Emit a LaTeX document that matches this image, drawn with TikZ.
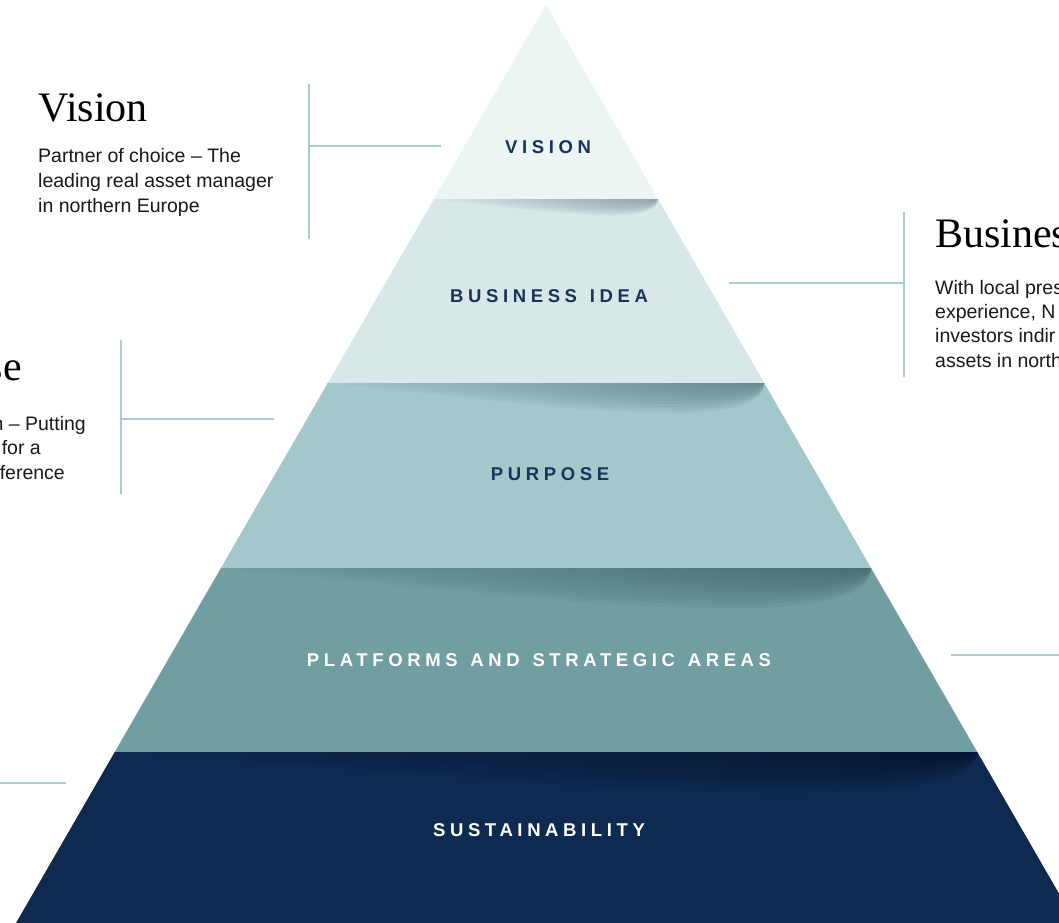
\documentclass[tikz,border=0pt]{standalone}
\usepackage{fontspec}
\newfontfamily\titlefont{Liberation Serif}
\newfontfamily\descfont{Liberation Sans}
\newfontfamily\labelfont[LetterSpace=25]{Liberation Sans}

\definecolor{visionfill}{HTML}{ECF4F4}
\definecolor{ideafill}{HTML}{D8E7E8}
\definecolor{purposefill}{HTML}{A3C8CB}
\definecolor{platformfill}{HTML}{719EA0}
\definecolor{sustainfill}{HTML}{0F2A50}
\definecolor{navytext}{HTML}{1A3358}
\definecolor{bracketline}{HTML}{A8CDD2}
\definecolor{shadeA}{HTML}{7F8E93}
\definecolor{shadeB}{HTML}{557A7F}
\definecolor{shadeC}{HTML}{3F6366}
\definecolor{shadeD}{HTML}{06142C}

% soft curved shadow under a step of the pyramid:
% #1 left x, #2 right x, #3 y of the step, #4 depth, #5 layer colour, #6 shadow colour
\newcommand\stepshadow[6]{%
  \foreach \k in {1,...,10}{%
    \shade[left color=#5, right color=#6, fill opacity=0.13]
      (#1,#3) .. controls ({#1+0.5*(#2-#1)},{#3+0.6*#4*\k/10})
                 and (#2,{#3+1.33*#4*\k/10}) .. (#2,#3) -- cycle;
  }%
}

\begin{document}
\begin{tikzpicture}[x=1pt,y=-1pt,
  title/.style={font=\titlefont\fontsize{42}{46}\selectfont, inner sep=0pt, text=black},
  desc/.style={font=\descfont\fontsize{19.5}{25}\selectfont, inner sep=0pt, text=black!90},
  tierlabel/.style={font=\labelfont\bfseries\fontsize{18.5}{20}\selectfont, inner sep=0pt, text=navytext},
  bracket/.style={draw=bracketline, line width=1.4pt}]
\useasboundingbox (0,0) rectangle (1059,922);
\fill[white] (0,0) rectangle (1059,922);

\begin{scope}
\clip (0,0) rectangle (1059,922);

% corners of the tiers (pyramid with 60 degree sides, apex at x=546)
\coordinate (apex) at (546,5);
\foreach \n/\y in {1/199,2/383,3/568,4/752,5/930}{
  \coordinate (L\n) at ({546-0.57735*(\y-5)},\y);
  \coordinate (R\n) at ({546+0.57735*(\y-5)},\y);
}

% tiers
\fill[visionfill]   (apex) -- (R1) -- (L1) -- cycle;
\fill[ideafill]     (L1) -- (R1) -- (R2) -- (L2) -- cycle;
\fill[purposefill]  (L2) -- (R2) -- (R3) -- (L3) -- cycle;
\fill[platformfill] (L3) -- (R3) -- (R4) -- (L4) -- cycle;
\fill[sustainfill]  (L4) -- (R4) -- (R5) -- (L5) -- cycle;

% shadows below each step
\stepshadow{434.0}{658.0}{199}{22}{ideafill}{shadeA}
\stepshadow{327.7}{764.3}{383}{40}{purposefill}{shadeB}
\stepshadow{220.9}{871.1}{568}{54}{platformfill}{shadeC}
\stepshadow{114.7}{977.3}{752}{55}{sustainfill}{shadeD}

% tier labels
\node[tierlabel] (lvision)   at (548,147) {VISION};
\node[tierlabel] (lidea)     at (549,296) {BUSINESS\hspace{3pt} IDEA};
\node[tierlabel] (lpurpose)  at (550,474) {PURPOSE};
\node[tierlabel, text=white] (lplatform) at (539,660) {PLATFORMS\hspace{3pt} AND\hspace{3pt} STRATEGIC\hspace{3pt} AREAS};
\node[tierlabel, text=white] (lsustain)  at (539,830) {SUSTAINABILITY};

% bracket connectors
\coordinate (vtop) at (309,84);  \coordinate (vbot) at (309,239);
\coordinate (vmid) at (309,146); \coordinate (vend) at (441,146);
\draw[bracket] (vtop) -- (vbot);
\draw[bracket] (vmid) -- (vend);

\coordinate (btop) at (904,212); \coordinate (bbot) at (904,377);
\coordinate (bmid) at (904,283); \coordinate (bend) at (729,283);
\draw[bracket] (btop) -- (bbot);
\draw[bracket] (bmid) -- (bend);

\coordinate (ptop) at (121,340); \coordinate (pbot) at (121,494);
\coordinate (pmid) at (121,419); \coordinate (pend) at (274,419);
\draw[bracket] (ptop) -- (pbot);
\draw[bracket] (pmid) -- (pend);

\coordinate (fstart) at (951,655); \coordinate (fend) at (1070,655);
\draw[bracket] (fstart) -- (fend);

\coordinate (sstart) at (-10,783); \coordinate (send) at (66,783);
\draw[bracket] (sstart) -- (send);

% Vision text
\node[title, anchor=base west] (tvision) at (38,121) {Vision};
\foreach \t [count=\i from 0] in {Partner of choice – The, leading real asset manager, in northern Europe}
  \node[desc, anchor=base west] (dvision\i) at (38,{162+25*\i}) {\t};

% Business idea text
\node[title, anchor=base west] (tidea) at (935,247) {Business idea};
\foreach \t [count=\i from 0] in {With local pres, {experience, N}, investors indir, assets in north}
  \node[desc, anchor=base west] (didea\i) at (935,{294+24.4*\i}) {\t};

% Purpose text
\node[title, anchor=base east] (tpurpose) at (22,380) {Purpose};
\node[desc, anchor=base east] (dpurpose0) at (86,430) {n – Putting};
\node[desc, anchor=base east] (dpurpose1) at (41,454) {for a};
\node[desc, anchor=base east] (dpurpose2) at (65,479) {ference};
\end{scope}
\end{tikzpicture}
\end{document}
